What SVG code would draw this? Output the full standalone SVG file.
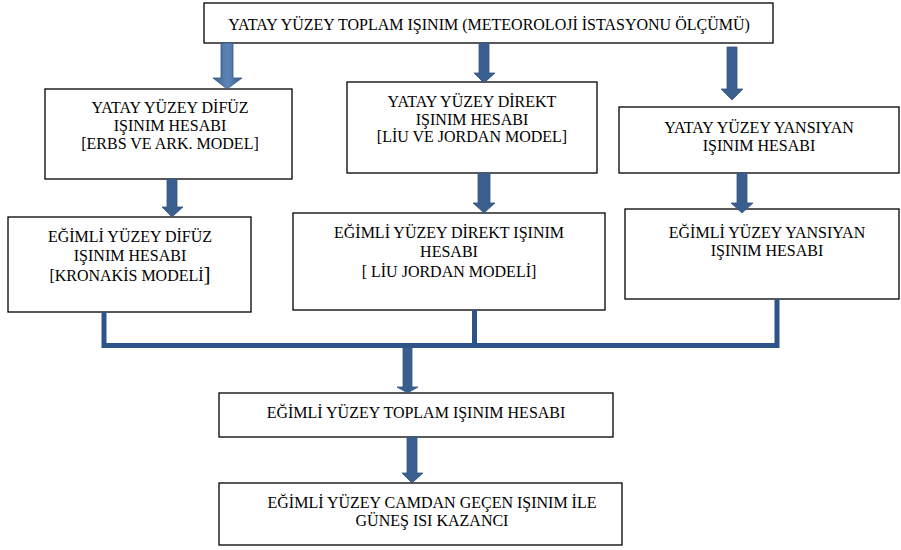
<svg xmlns="http://www.w3.org/2000/svg" width="901" height="550" viewBox="0 0 901 550">
<defs>
<style>
.box{fill:#fff;stroke:#000;stroke-width:1.3}
.t{font-family:'Liberation Serif','Times New Roman',Times,serif;font-size:16px;fill:#000;text-anchor:middle}
.arr{fill:#3a5f8f;stroke:#34567f;stroke-width:0.8}
.bus{fill:none;stroke:#2f5489;stroke-width:5}
</style>
<linearGradient id="g1" x1="0" y1="0" x2="1" y2="0">
<stop offset="0" stop-color="#3a5f8f"/><stop offset="0.45" stop-color="#5a82b4"/><stop offset="0.55" stop-color="#5a82b4"/><stop offset="1" stop-color="#3a5f8f"/>
</linearGradient>
</defs>
<rect width="901" height="550" fill="#fff"/>
<g font-family="Liberation Serif, Times New Roman, serif">
<g id="n-top"><rect class="box" x="204" y="3" width="569" height="40"/><text class="t" x="489" y="30">YATAY YÜZEY TOPLAM IŞINIM (METEOROLOJİ İSTASYONU ÖLÇÜMÜ)</text></g>
<g id="n-l1"><rect class="box" x="45" y="89" width="247" height="90"/><text class="t" x="170" y="113">YATAY YÜZEY DİFÜZ</text><text class="t" x="170" y="131">IŞINIM HESABI</text><text class="t" x="170" y="149">[ERBS VE ARK. MODEL]</text></g>
<g id="n-m1"><rect class="box" x="347" y="82" width="250" height="91"/><text class="t" x="472" y="107">YATAY YÜZEY DİREKT</text><text class="t" x="472" y="125">IŞINIM HESABI</text><text class="t" x="472" y="142">[LİU VE JORDAN MODEL]</text></g>
<g id="n-r1"><rect class="box" x="619" y="107" width="280" height="66"/><text class="t" x="759" y="133">YATAY YÜZEY YANSIYAN</text><text class="t" x="759" y="151">IŞINIM HESABI</text></g>
<g id="n-l2"><rect class="box" x="8" y="217" width="243" height="95"/><text class="t" x="130" y="242">EĞİMLİ YÜZEY DİFÜZ</text><text class="t" x="130" y="261">IŞINIM HESABI</text><text class="t" x="130" y="281">[KRONAKİS MODELİ<tspan font-size="21">]</tspan></text></g>
<g id="n-m2"><rect class="box" x="293" y="213" width="312" height="97"/><text class="t" x="449" y="238">EĞİMLİ YÜZEY DİREKT IŞINIM</text><text class="t" x="449" y="257">HESABI</text><text class="t" x="449" y="277">[ LİU JORDAN MODELİ]</text></g>
<g id="n-r2"><rect class="box" x="625" y="209" width="274" height="90"/><text class="t" x="767" y="238">EĞİMLİ YÜZEY YANSIYAN</text><text class="t" x="767" y="256">IŞINIM HESABI</text></g>
<g id="n-t"><rect class="box" x="219" y="393" width="394" height="44"/><text class="t" x="416" y="418">EĞİMLİ YÜZEY TOPLAM IŞINIM HESABI</text></g>
<g id="n-b"><rect class="box" x="219" y="483" width="403" height="62"/><text class="t" x="432" y="508">EĞİMLİ YÜZEY CAMDAN GEÇEN IŞINIM İLE</text><text class="t" x="432" y="526">GÜNEŞ ISI KAZANCI</text></g>
</g>
<g id="connectors">
<polygon class="arr" style="fill:url(#g1)" points="221,43 233,43 233,78 242,78 227,89 213,78 221,78"/>
<polygon class="arr" points="479,43 489,43 489,73 495,73 484,83 474,73 479,73"/>
<polygon class="arr" points="727,47 737,47 737,89 743,89 732,100 721,89 727,89"/>
<polygon class="arr" points="167,179 177,179 177,207 183,207 172,217 162,207 167,207"/>
<polygon class="arr" points="478,173 490,173 490,203 495,203 484,213 473,203 478,203"/>
<polygon class="arr" points="737,173 747,173 747,203 753,203 742,213 731,203 737,203"/>
<path class="bus" d="M104,312 V345.5 M474.5,310 V345.5 M777,299 V345.5 M101.5,345.5 H779.5"/>
<polygon class="arr" points="403,348 412,348 412,387 418,387 407.5,393 397,387 403,387"/>
<polygon class="arr" points="407,437 417,437 417,473 423,473 412,483 402,473 407,473"/>
</g>
</svg>
